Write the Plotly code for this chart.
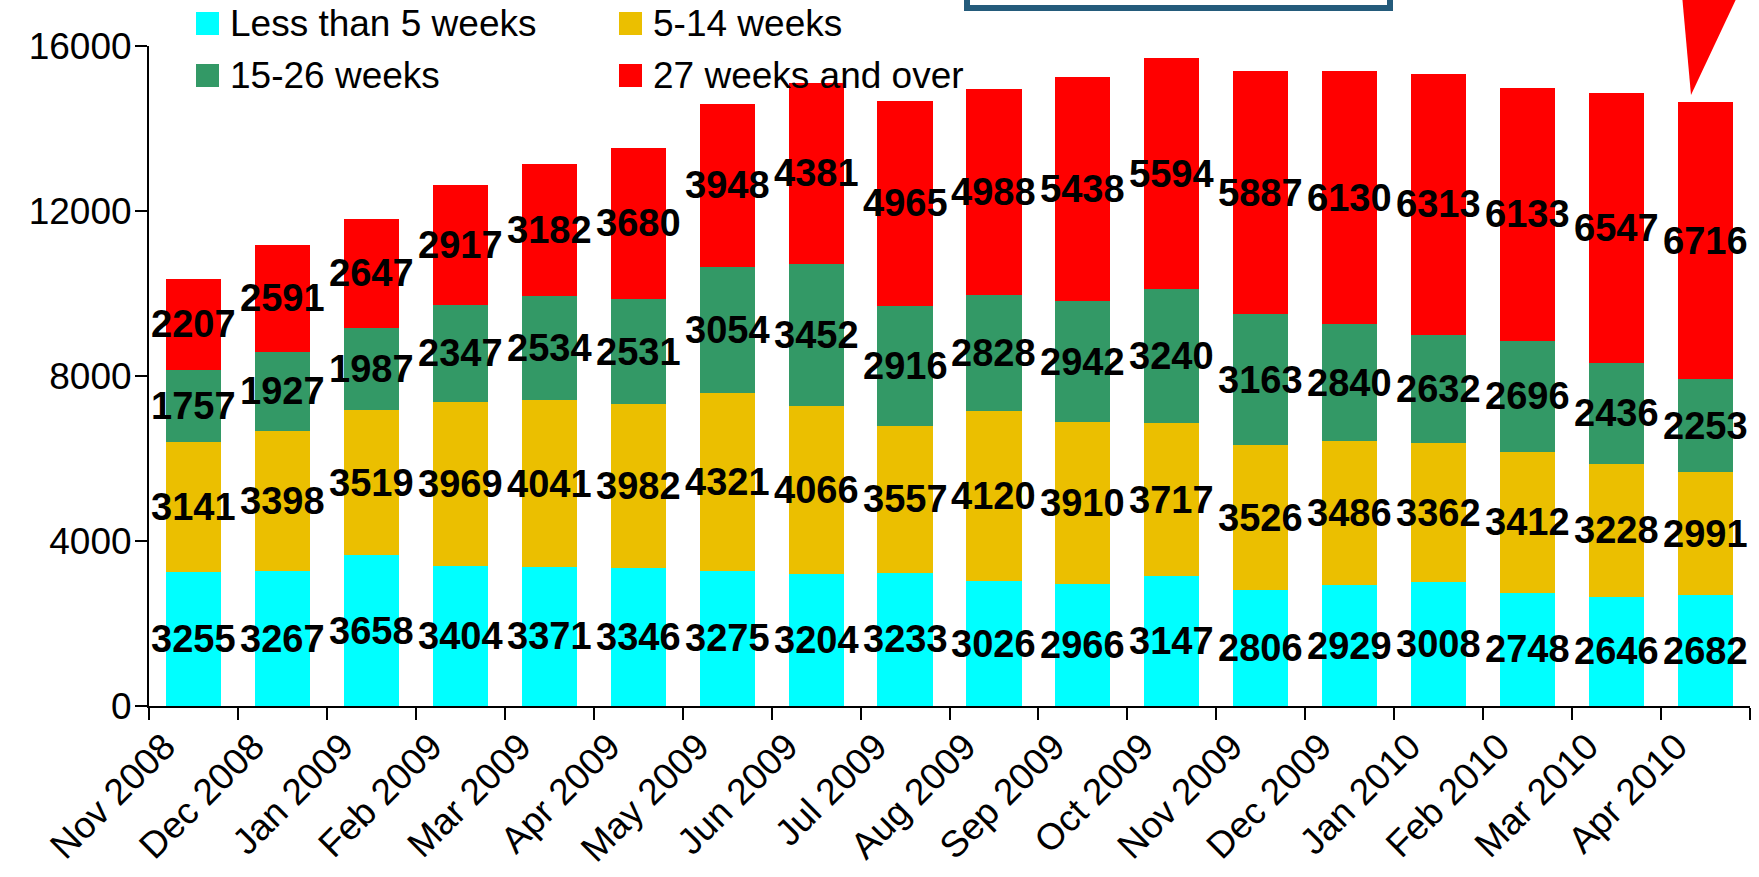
import plotly.graph_objects as go

months = ["Nov 2008", "Dec 2008", "Jan 2009", "Feb 2009", "Mar 2009", "Apr 2009",
          "May 2009", "Jun 2009", "Jul 2009", "Aug 2009", "Sep 2009", "Oct 2009",
          "Nov 2009", "Dec 2009", "Jan 2010", "Feb 2010", "Mar 2010", "Apr 2010"]
lt5 = [3255, 3267, 3658, 3404, 3371, 3346, 3275, 3204, 3233, 3026, 2966, 3147,
       2806, 2929, 3008, 2748, 2646, 2682]
w5_14 = [3141, 3398, 3519, 3969, 4041, 3982, 4321, 4066, 3557, 4120, 3910, 3717,
         3526, 3486, 3362, 3412, 3228, 2991]
w15_26 = [1757, 1927, 1987, 2347, 2534, 2531, 3054, 3452, 2916, 2828, 2942, 3240,
          3163, 2840, 2632, 2696, 2436, 2253]
w27 = [2207, 2591, 2647, 2917, 3182, 3680, 3948, 4381, 4965, 4988, 5438, 5594,
       5887, 6130, 6313, 6133, 6547, 6716]
y_ticks = [0, 4000, 8000, 12000, 16000]

series = [
    ("Less than 5 weeks", lt5, "#00FFFF"),
    ("5-14 weeks", w5_14, "#EBBF00"),
    ("15-26 weeks", w15_26, "#339966"),
    ("27 weeks and over", w27, "#FF0000"),
]

W, H = 1759, 877
L, R, T, B = 149, 9, 46, 171
PW, PH = W - L - R, H - T - B

def px(x):
    return (x - L) / PW

def py(y):
    return (H - B - y) / PH

fig = go.Figure()
annots = []
base = [0] * len(months)
for name, vals, col in series:
    fig.add_trace(go.Bar(
        x=months, y=vals, name=name, marker=dict(color=col, line=dict(width=0)),
        showlegend=False,
    ))
    # value labels centred in each segment, drawn on top of all bars
    for m, b0, v in zip(months, base, vals):
        annots.append(dict(text=str(v), x=m, y=b0 + v / 2, xref="x", yref="y",
                           xanchor="center", yanchor="middle", showarrow=False,
                           font=dict(family="Liberation Sans, Arial", size=38,
                                     color="black", weight="bold")))
    base = [b0 + v for b0, v in zip(base, vals)]

fig.update_layout(
    width=W, height=H, barmode="stack", bargap=0.38,
    margin=dict(l=L, r=R, t=T, b=B, autoexpand=False),
    paper_bgcolor="white", plot_bgcolor="white",
    font=dict(family="Liberation Sans, Arial", color="black"),
    xaxis=dict(type="category", showline=True, linecolor="black", linewidth=2,
               ticks="outside", tickson="boundaries", ticklen=12, tickwidth=2,
               tickcolor="black", tickangle=-45, tickfont=dict(size=37),
               ticklabelshift=-29, ticklabelstandoff=2,
               showgrid=False, zeroline=False),
    yaxis=dict(range=[0, 16000], tickvals=y_ticks, ticktext=[str(v) for v in y_ticks],
               showline=True, linecolor="black", linewidth=2, ticks="outside",
               ticklen=12, tickwidth=2, tickcolor="black", tickfont=dict(size=37),
               ticklabelstandoff=-4,
               showgrid=False, zeroline=False),
)

shapes = []
leg_pos = [(196, 12, 228), (619, 12, 651), (196, 64, 228), (619, 64, 651)]
for (name, vals, col), (sx, sy, tx) in zip(series, leg_pos):
    shapes.append(dict(type="rect", xref="paper", yref="paper",
                       x0=px(sx), x1=px(sx + 23), y0=py(sy), y1=py(sy + 23),
                       fillcolor=col, line=dict(width=0)))
    annots.append(dict(text=name, xref="paper", yref="paper", x=px(tx), y=py(sy + 11.5),
                       xanchor="left", yanchor="middle", showarrow=False,
                       font=dict(size=37, color="black")))
# framing box (partially visible) and red arrow pointer
shapes.append(dict(type="rect", xref="paper", yref="paper",
                   x0=px(967), x1=px(1390), y0=py(8), y1=py(-40),
                   line=dict(color="#245B7B", width=6), fillcolor="rgba(0,0,0,0)"))
shapes.append(dict(type="path", xref="paper", yref="paper",
                   path=f"M {px(1682)} {py(-5)} L {px(1738)} {py(-5)} L {px(1691)} {py(95)} Z",
                   fillcolor="#FF0000", line=dict(width=0)))
fig.update_layout(shapes=shapes, annotations=annots)
fig.write_html("out.html", config={"displayModeBar": False})

# remove the browser's default page margin so the figure sits at the window origin
with open("out.html", "r", encoding="utf-8") as f:
    html = f.read()
html = html.replace("<body>", '<body style="margin:0;padding:0;overflow:hidden;">', 1)
with open("out.html", "w", encoding="utf-8") as f:
    f.write(html)
